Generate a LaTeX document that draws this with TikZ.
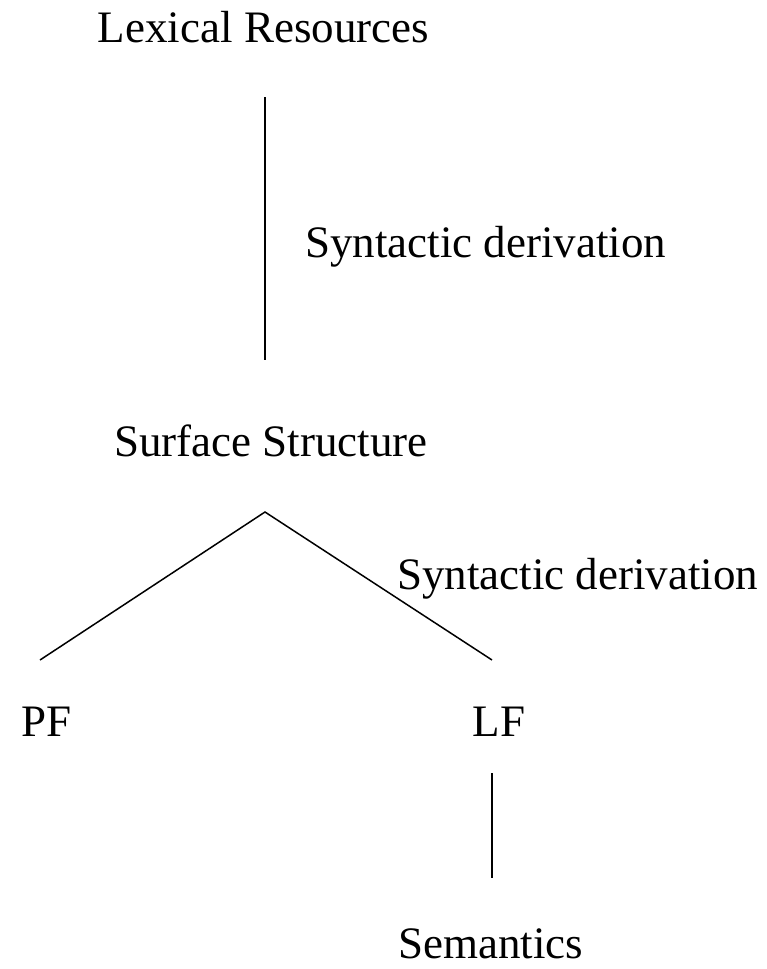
\documentclass[tikz,border=0pt]{standalone}
\usepackage{fontspec}
\setmainfont{Liberation Serif}
\usetikzlibrary{positioning}

\begin{document}
\begin{tikzpicture}[x=1pt, y=-1pt,
  lbl/.style={inner sep=0pt, anchor=base, font=\fontsize{45}{54}\selectfont},
  side/.style={inner sep=0pt, anchor=base west, font=\fontsize{45}{54}\selectfont},
  edge/.style={line width=1.5pt}]
\useasboundingbox (0,0) rectangle (767,969);

\node[lbl] (lex) at (263.5,42) {Lexical Resources};
\node[lbl] (surf) at (271,456) {Surface Structure};
\node[lbl] (pf) at (47,736) {PF};
\node[lbl] (lf) at (499,736) {LF};
\node[lbl] (sem) at (490.5,958) {Semantics};

\node[side] (der1) at (305,257) {Syntactic derivation};
\node[side] (der2) at (397,589) {Syntactic derivation};

% end points of the lines
\coordinate (lexbot) at (265,97);
\coordinate (surftop) at (265,360);
\coordinate (apex) at (265,512);
\coordinate (pftop) at (40,660);
\coordinate (lftop) at (492,660);
\coordinate (lfbot) at (492,773);
\coordinate (semtop) at (492,878);

\draw[edge] (lexbot) -- (surftop);
\draw[edge] (pftop) -- (apex) -- (lftop);
\draw[edge] (lfbot) -- (semtop);
\end{tikzpicture}
\end{document}
